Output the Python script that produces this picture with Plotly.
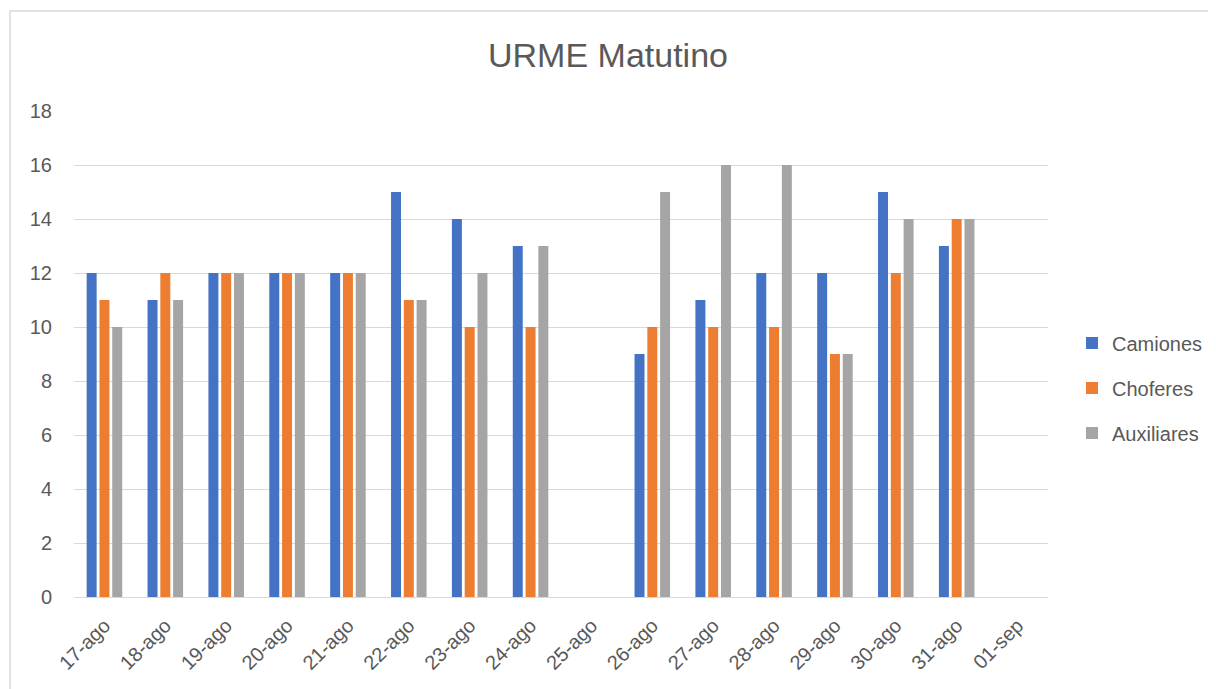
import plotly.graph_objects as go

categories = ["17-ago", "18-ago", "19-ago", "20-ago", "21-ago", "22-ago", "23-ago", "24-ago",
              "25-ago", "26-ago", "27-ago", "28-ago", "29-ago", "30-ago", "31-ago", "01-sep"]
camiones = [12, 11, 12, 12, 12, 15, 14, 13, None, 9, 11, 12, 12, 15, 13, None]
choferes = [11, 12, 12, 12, 12, 11, 10, 10, None, 10, 10, 10, 9, 12, 14, None]
auxiliares = [10, 11, 12, 12, 12, 11, 12, 13, None, 15, 16, 16, 9, 14, 14, None]
y_ticks = [0, 2, 4, 6, 8, 10, 12, 14, 16, 18]

font_family = "Liberation Sans, Arial, sans-serif"
text_color = "#595959"

L, R, T, B = 66, 176, 103, 100
W, H = 1216, 689
PW, PH = W - L - R, H - T - B

fig = go.Figure()
for name, vals, color in [("Camiones", camiones, "#4472C4"),
                          ("Choferes", choferes, "#ED7D31"),
                          ("Auxiliares", auxiliares, "#A5A5A5")]:
    fig.add_trace(go.Bar(x=categories, y=vals, name=name, marker_color=color,
                         marker_line_width=0, legendgroup=name))

fig.update_layout(
    width=W, height=H,
    barmode="group", bargap=0.37, bargroupgap=0.22,
    paper_bgcolor="white", plot_bgcolor="white",
    margin=dict(l=L, r=R, t=T, b=B),
    title=dict(text="URME Matutino", x=600 / W, xref="container", xanchor="center",
               y=1 - 47 / H, yref="container", yanchor="middle",
               font=dict(family=font_family, size=34, color=text_color)),
    font=dict(family=font_family, size=19, color=text_color),
    legend=dict(x=(1064 - L) / PW, xanchor="left", y=(PH + T - 380) / PH, yanchor="middle",
                font=dict(size=20, color=text_color), itemwidth=30,
                tracegroupgap=16, traceorder="grouped"),
    xaxis=dict(tickangle=-45, showgrid=False, showline=True, linecolor="#d9d9d9",
               linewidth=1, ticks="", ticklabelstandoff=8,
               tickfont=dict(size=20, color=text_color)),
    yaxis=dict(range=[0, 18], tickvals=y_ticks, showgrid=True, gridcolor="#d9d9d9",
               gridwidth=1, zeroline=False, showline=False, ticks="",
               ticklabelstandoff=21,
               tickfont=dict(size=20, color=text_color)),
    shapes=[dict(type="rect", xref="paper", yref="paper",
                 x0=(2 - L) / PW, x1=(1240 - L) / PW,
                 y0=(PH + T - 720) / PH, y1=(PH + T - 3) / PH,
                 line=dict(color="#d9d9d9", width=1.5))],
)

fig.write_html("out.html")
